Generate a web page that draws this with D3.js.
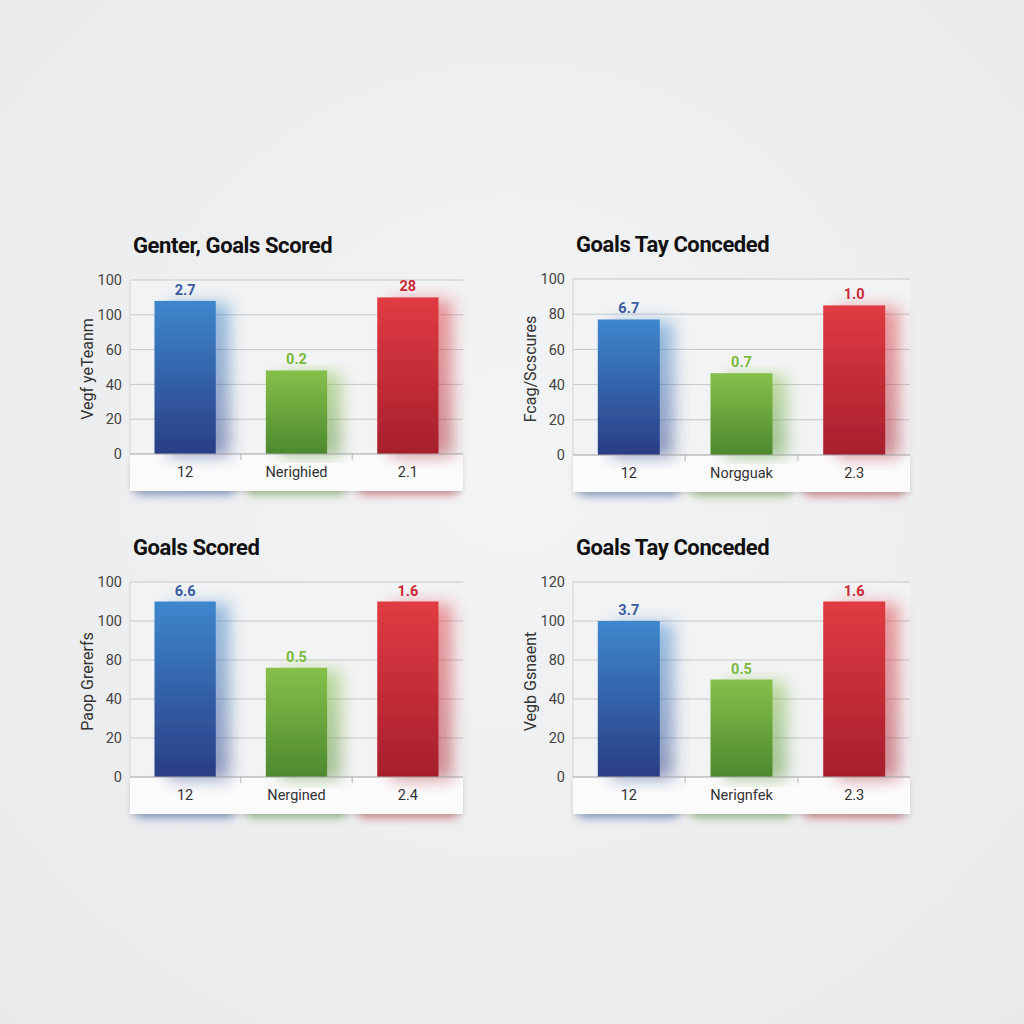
<!DOCTYPE html>
<html>
<head>
<meta charset="utf-8">
<script src="https://cdn.jsdelivr.net/npm/d3@7"></script>
<style>
  html, body { margin: 0; padding: 0; background: #eeeff0; }
  svg { display: block; }
</style>
</head>
<body>
<svg id="chart" width="1024" height="1024"></svg>
<script>
// ---------- data ----------
const titles = ["Genter, Goals Scored", "Goals Tay Conceded", "Goals Scored", "Goals Tay Conceded"];
const yTitles = ["Vegf yeTeanm", "Fcag/Scscures", "Paop Grererfs", "Vegb Gsnaent"];
const categories1 = ["12", "Nerighied", "2.1"];
const categories2 = ["12", "Norgguak", "2.3"];
const categories3 = ["12", "Nergined", "2.4"];
const categories4 = ["12", "Nerignfek", "2.3"];
const values1 = [88, 48, 90];
const values2 = [77, 46.5, 85];
const values3 = [90, 56, 90];
const values4 = [80, 50, 90];
const valueLabels1 = ["2.7", "0.2", "28"];
const valueLabels2 = ["6.7", "0.7", "1.0"];
const valueLabels3 = ["6.6", "0.5", "1.6"];
const valueLabels4 = ["3.7", "0.5", "1.6"];
const tickValues = [0, 20, 40, 60, 80, 100];
const tickLabels1 = ["0", "20", "40", "60", "100", "100"];
const tickLabels2 = ["0", "20", "40", "60", "80", "100"];
const tickLabels3 = ["0", "20", "40", "80", "100", "100"];
const tickLabels4 = ["0", "20", "40", "80", "100", "120"];

const panels = [
  { title: titles[0], yTitle: yTitles[0], cats: categories1, vals: values1, labels: valueLabels1, ticks: tickLabels1, left: 130, top: 280, w: 333, h: 174 },
  { title: titles[1], yTitle: yTitles[1], cats: categories2, vals: values2, labels: valueLabels2, ticks: tickLabels2, left: 573, top: 279, w: 337, h: 176 },
  { title: titles[2], yTitle: yTitles[2], cats: categories3, vals: values3, labels: valueLabels3, ticks: tickLabels3, left: 130, top: 582, w: 333, h: 195 },
  { title: titles[3], yTitle: yTitles[3], cats: categories4, vals: values4, labels: valueLabels4, ticks: tickLabels4, left: 573, top: 582, w: 337, h: 195 }
];

const barColors = [
  { top: "#3d87cd", bottom: "#2a3d85", text: "#3a5c9f", shadow: "#3559a8" },
  { top: "#86c04b", bottom: "#4d892e", text: "#7bba3c", shadow: "#5f9a3a" },
  { top: "#e13b43", bottom: "#a61f2c", text: "#cc2a36", shadow: "#c0303c" }
];

const FONT = "Roboto, 'Liberation Sans', sans-serif";
const svg = d3.select("#chart");
const defs = svg.append("defs");

// background
const bg = defs.append("radialGradient").attr("id", "bgGrad").attr("cx", "50%").attr("cy", "45%").attr("r", "75%");
bg.append("stop").attr("offset", "0%").attr("stop-color", "#f3f4f5");
bg.append("stop").attr("offset", "100%").attr("stop-color", "#e8e9eb");
svg.append("rect").attr("width", 1024).attr("height", 1024).attr("fill", "url(#bgGrad)");

barColors.forEach((c, i) => {
  const g = defs.append("linearGradient").attr("id", "barGrad" + i).attr("x1", 0).attr("y1", 0).attr("x2", 0).attr("y2", 1);
  g.append("stop").attr("offset", "0%").attr("stop-color", c.top);
  g.append("stop").attr("offset", "100%").attr("stop-color", c.bottom);
});

const f = defs.append("filter").attr("id", "barShadow").attr("x", "-40%").attr("y", "-10%").attr("width", "200%").attr("height", "120%");
f.append("feGaussianBlur").attr("in", "SourceGraphic").attr("stdDeviation", 8).attr("result", "b");
f.append("feOffset").attr("in", "b").attr("dx", 14).attr("dy", 2).attr("result", "o");
const ct = f.append("feComponentTransfer").attr("in", "o").attr("result", "t");
ct.append("feFuncA").attr("type", "linear").attr("slope", 0.5);
const fm = f.append("feMerge");
fm.append("feMergeNode").attr("in", "t");
fm.append("feMergeNode").attr("in", "SourceGraphic");

const blur = defs.append("filter").attr("id", "softBlur").attr("x", "-50%").attr("y", "-150%").attr("width", "200%").attr("height", "400%");
blur.append("feGaussianBlur").attr("stdDeviation", 5);

const stripShadow = defs.append("filter").attr("id", "stripShadow").attr("x", "-10%").attr("y", "-30%").attr("width", "120%").attr("height", "180%");
stripShadow.append("feDropShadow").attr("dx", 0).attr("dy", 2).attr("stdDeviation", 2).attr("flood-color", "#000").attr("flood-opacity", 0.14);

panels.forEach(p => {
  const g = svg.append("g");
  const y = d3.scaleLinear().domain([0, 100]).range([p.top + p.h, p.top]);
  const x = d3.scaleBand().domain(p.cats).range([p.left, p.left + p.w]).paddingInner(0.45).paddingOuter(0.22);
  const zero = y(0);

  // plot background
  g.append("rect").attr("x", p.left).attr("y", p.top).attr("width", p.w).attr("height", p.h)
    .attr("fill", "#f2f3f4");

  // gridlines
  g.selectAll(".grid").data(tickValues.filter(d => d > 0)).join("line")
    .attr("x1", p.left).attr("x2", p.left + p.w)
    .attr("y1", d => y(d)).attr("y2", d => y(d))
    .attr("stroke", "#c6c7c9").attr("stroke-width", 1);
  g.append("line").attr("x1", p.left).attr("x2", p.left).attr("y1", p.top).attr("y2", zero)
    .attr("stroke", "#d2d3d5").attr("stroke-width", 1);

  // y axis
  const yAxis = d3.axisLeft(y).tickValues(tickValues).tickFormat((d, i) => p.ticks[i]).tickSize(0).tickPadding(8);
  const ya = g.append("g").attr("transform", `translate(${p.left},0)`).call(yAxis);
  ya.select(".domain").remove();
  ya.selectAll("text").attr("font-family", FONT).attr("font-size", 14.5).attr("fill", "#444");

  // y title
  g.append("text")
    .attr("transform", `translate(${p.left - 37},${p.top + p.h / 2 + 2}) rotate(-90)`)
    .attr("text-anchor", "middle")
    .attr("font-family", FONT)
    .attr("font-size", 16).attr("fill", "#333")
    .text(p.yTitle);

  // title
  g.append("text").attr("x", p.left + 3).attr("y", p.top - 27)
    .attr("font-family", FONT)
    .attr("font-weight", 700).attr("font-size", 22).attr("letter-spacing", -0.4).attr("fill", "#111")
    .text(p.title);

  // colored shadows below strip
  g.selectAll(".stripsh").data(p.cats).join("rect")
    .attr("x", d => x(d) - 18).attr("width", x.bandwidth() + 36)
    .attr("y", zero + 33).attr("height", 8)
    .attr("fill", (d, i) => barColors[i].shadow).attr("opacity", 0.55)
    .attr("filter", "url(#softBlur)");

  // strip
  g.append("rect").attr("x", p.left).attr("y", zero).attr("width", p.w).attr("height", 37)
    .attr("fill", "#fbfbfc").attr("filter", "url(#stripShadow)");

  // bars
  g.selectAll(".bar").data(p.vals).join("rect")
    .attr("x", (d, i) => x(p.cats[i])).attr("width", x.bandwidth())
    .attr("y", d => y(d)).attr("height", d => zero - y(d))
    .attr("fill", (d, i) => `url(#barGrad${i})`)
    .attr("filter", "url(#barShadow)");

  // zero line
  g.append("line").attr("x1", p.left).attr("x2", p.left + p.w).attr("y1", zero).attr("y2", zero)
    .attr("stroke", "#a3a4a6").attr("stroke-width", 1.2);

  // separators
  const seps = p.cats.slice(1).map(c => x(c) - x.step() * x.paddingInner() / 2);
  g.selectAll(".sep").data(seps).join("line")
    .attr("x1", d => d).attr("x2", d => d).attr("y1", zero).attr("y2", zero + 6)
    .attr("stroke", "#b5b6b8");

  // x axis labels
  const xAxis = d3.axisBottom(x).tickSize(0).tickPadding(13);
  const xa = g.append("g").attr("transform", `translate(0,${zero})`).call(xAxis);
  xa.select(".domain").remove();
  xa.selectAll("text").attr("font-family", FONT).attr("font-size", 14.5).attr("fill", "#333");

  // value labels
  g.selectAll(".vl").data(p.vals).join("text")
    .attr("x", (d, i) => x(p.cats[i]) + x.bandwidth() / 2)
    .attr("y", d => y(d) - 6)
    .attr("text-anchor", "middle")
    .attr("font-family", FONT)
    .attr("font-weight", 700).attr("font-size", 14.5)
    .attr("fill", (d, i) => barColors[i].text)
    .text((d, i) => p.labels[i]);
});
</script>
</body>
</html>
